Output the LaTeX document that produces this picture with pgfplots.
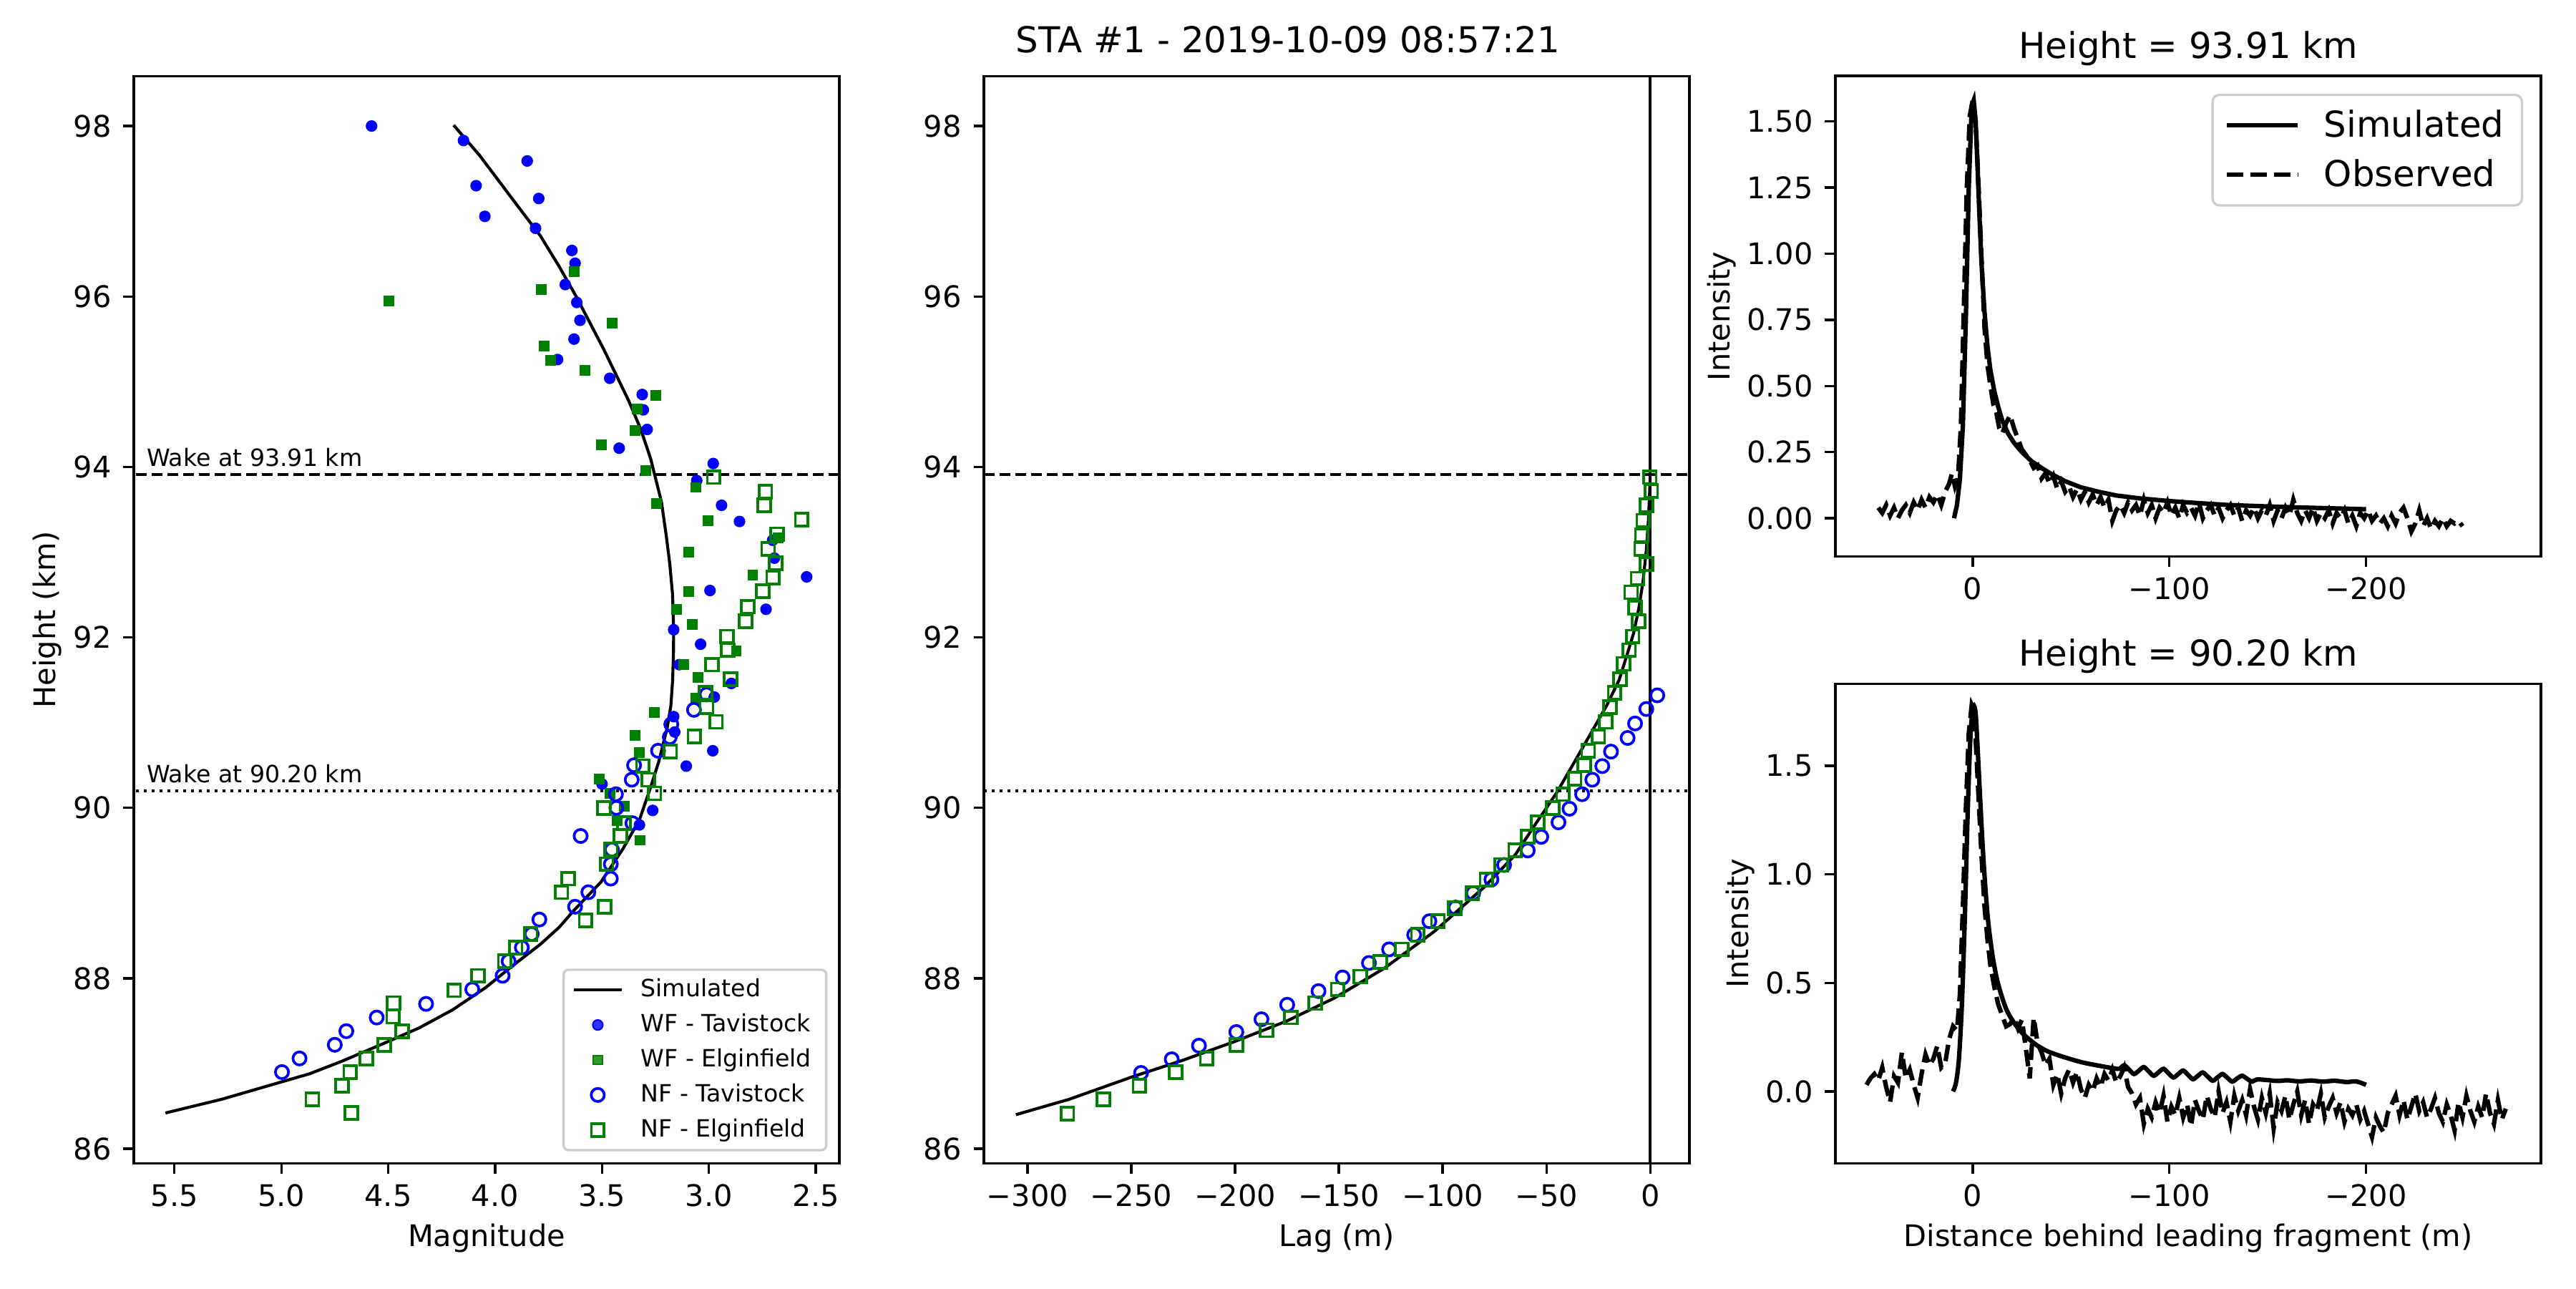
\documentclass[border=0pt]{standalone}
\usepackage{fontspec}
\setmainfont{DejaVu Sans}
\usepackage{pgfplots}
\pgfplotsset{compat=1.18}
\definecolor{mblue}{RGB}{0,0,255}
\definecolor{mgreen}{RGB}{0,128,0}
\definecolor{legedge}{RGB}{204,204,204}
\newcommand{\tenpt}{\fontsize{10}{12}\selectfont}
\newcommand{\eightpt}{\fontsize{8}{9.6}\selectfont}
\newcommand{\twelvept}{\fontsize{12}{14.4}\selectfont}
\pgfplotsset{
  mpl/.style={
    scale only axis,
    anchor=south west,
    width=237.53pt,
    axis line style={line width=0.8pt},
    tick align=outside,
    tick pos=left,
    major tick length=3.5pt,
    every tick/.style={black, line width=0.8pt},
    /pgf/number format/assume math mode=true,
    ticklabel style={font=\tenpt, inner sep=0pt},
    xticklabel style={anchor=base, yshift=-11pt},
    yticklabel style={anchor=east, xshift=-3.9pt},
    label style={font=\tenpt, inner sep=0pt},
    xlabel style={at={(axis description cs:0.5,0)}, anchor=base, yshift=-28.1pt},
    title style={font=\twelvept, inner sep=0pt, at={(axis description cs:0.5,1)}, anchor=base},
    legend cell align=left,
    legend image code/.code={\draw[mark repeat=2,mark phase=2,##1] plot coordinates {(0pt,0pt) (8pt,0pt) (16pt,0pt)};},
  },
  wftav/.style={only marks, mark=*, mark size=1.7pt, mark options={draw=mblue, fill=mblue, line width=0.5pt}},
  wfelg/.style={only marks, mark=square*, mark size=1.55pt, mark options={draw=mgreen, fill=mgreen, line width=0.5pt}},
  nftav/.style={only marks, mark=o, mark size=2.2pt, mark options={draw=mblue, line width=0.9pt}},
  nfelg/.style={only marks, mark=square, mark size=2.15pt, mark options={draw=mgreen, line width=0.9pt}},
}
\begin{document}
\begin{tikzpicture}
\path[use as bounding box] (0,0) rectangle (867.24pt,433.62pt);

% ---------------- Left panel ----------------
\begin{axis}[mpl, at={(45.05pt,42.08pt)}, height=365.9pt,
  x dir=reverse, xmin=2.39, xmax=5.69, ymin=85.83, ymax=98.585,
  xtick={5.5,5.0,4.5,4.0,3.5,3.0,2.5}, xticklabels={5.5,5.0,4.5,4.0,3.5,3.0,2.5},
  ytick={86,88,90,92,94,96,98},
  xlabel={Magnitude}, ylabel={Height (km)},
  ylabel style={at={(axis description cs:-0.1106,0.5)}, anchor=base},
  legend style={font=\eightpt, draw=legedge, line width=0.8pt, rounded corners=1.6pt,
    fill=white, fill opacity=0.8, draw opacity=1, text opacity=1,
    at={(0.983,0.011)}, anchor=south east, inner xsep=3pt, inner ysep=1pt,
    row sep=0.2pt, column sep=4pt},
]
\addplot[black, line width=1pt] coordinates {
(5.542,86.42) (5.280,86.58) (5.074,86.73) (4.868,86.88) (4.714,87.03) (4.508,87.25) (4.354,87.42) (4.199,87.63) (4.045,87.89) (3.917,88.15) (3.788,88.40) (3.700,88.60) (3.634,88.79) (3.505,89.13) (3.402,89.52) (3.325,89.86) (3.273,90.24) (3.235,90.54) (3.196,90.93) (3.178,91.20) (3.170,91.49) (3.166,91.80) (3.165,92.08) (3.170,92.50) (3.183,92.86) (3.200,93.20) (3.222,93.59) (3.273,94.10) (3.320,94.45) (3.376,94.78) (3.492,95.38) (3.621,96.00) (3.700,96.35) (3.788,96.71) (3.891,97.05) (4.071,97.65) (4.194,98.01)
};
\addlegendentry{Simulated}
\addplot[wftav] coordinates {
(4.578,98.00) (4.148,97.83) (3.850,97.59) (4.089,97.30) (3.796,97.15) (4.048,96.94) (3.811,96.80) (3.641,96.54) (3.626,96.39) (3.672,96.14) (3.618,95.93) (3.603,95.72) (3.631,95.50) (3.708,95.26) (3.464,95.04) (3.312,94.85) (3.307,94.67) (3.289,94.44) (3.420,94.22) (2.980,94.04) (3.057,93.84) (2.941,93.55) (2.857,93.36) (2.702,93.14) (2.694,92.93) (2.543,92.71) (2.995,92.55) (2.733,92.33) (3.165,92.09) (3.039,91.92) (3.139,91.68) (2.895,91.46) (2.975,91.30) (3.165,91.07) (3.160,90.89) (2.982,90.67) (3.106,90.49) (3.500,90.28) (3.263,89.97) (3.325,89.80)
};
\addlegendentry{WF - Tavistock}
\addplot[wfelg] coordinates {
(4.498,95.95) (3.785,96.08) (3.631,96.29) (3.454,95.69) (3.770,95.42) (3.739,95.25) (3.580,95.13) (3.250,94.84) (3.335,94.68) (3.345,94.43) (3.502,94.26) (3.294,93.96) (3.062,93.76) (3.245,93.57) (3.003,93.37) (3.093,93.00) (2.795,92.73) (2.676,93.17) (3.093,92.54) (3.150,92.33) (3.078,92.15) (2.872,91.84) (3.119,91.68) (3.050,91.53) (3.060,91.29) (3.255,91.12) (3.345,90.85) (3.325,90.65) (3.513,90.34) (3.464,90.17) (3.397,90.02) (3.430,89.85) (3.322,89.62)
};
\addlegendentry{WF - Elginfield}
\addplot[nftav] coordinates {
(3.011,91.33) (3.070,91.15) (3.176,90.98) (3.183,90.83) (3.238,90.67) (3.350,90.50) (3.361,90.33) (3.435,90.16) (3.433,90.00) (3.358,89.82) (3.600,89.67) (3.454,89.51) (3.459,89.34) (3.459,89.17) (3.564,89.01) (3.626,88.84) (3.793,88.69) (3.829,88.52) (3.875,88.36) (3.937,88.20) (3.965,88.03) (4.107,87.87) (4.323,87.70) (4.554,87.54) (4.696,87.38) (4.750,87.22) (4.915,87.06) (4.997,86.90)
};
\addlegendentry{NF - Tavistock}
\addplot[nfelg] coordinates {
(2.978,93.88) (2.736,93.71) (2.741,93.55) (2.566,93.38) (2.682,93.21) (2.723,93.04) (2.687,92.87) (2.700,92.70) (2.749,92.54) (2.818,92.36) (2.828,92.19) (2.916,92.01) (2.913,91.85) (2.985,91.68) (2.898,91.51) (3.016,91.35) (3.011,91.18) (2.967,91.01) (3.068,90.84) (3.181,90.66) (3.309,90.49) (3.284,90.33) (3.255,90.17) (3.492,90.00) (3.397,89.82) (3.415,89.67) (3.459,89.51) (3.479,89.34) (3.659,89.17) (3.690,89.01) (3.487,88.84) (3.577,88.68) (3.834,88.52) (3.904,88.36) (3.955,88.20) (4.081,88.03) (4.192,87.86) (4.475,87.71) (4.477,87.55) (4.434,87.38) (4.518,87.22) (4.603,87.06) (4.678,86.90) (4.717,86.74) (4.855,86.58) (4.673,86.42)
};
\addlegendentry{NF - Elginfield}
\addplot[forget plot, black, line width=1pt, dash pattern=on 3.7pt off 1.6pt] coordinates {(2.39,93.91) (5.69,93.91)};
\addplot[forget plot, black, line width=1pt, dash pattern=on 1pt off 1.65pt] coordinates {(2.39,90.20) (5.69,90.20)};
\node[anchor=base west, inner sep=0pt, font=\eightpt] at (axis cs:5.632,94.01) {Wake at 93.91 km};
\node[anchor=base west, inner sep=0pt, font=\eightpt] at (axis cs:5.632,90.30) {Wake at 90.20 km};
\end{axis}

% ---------------- Middle panel ----------------
\begin{axis}[mpl, at={(331.24pt,42.08pt)}, height=365.9pt,
  xmin=-321, xmax=18.9, ymin=85.83, ymax=98.585,
  xtick={-300,-250,-200,-150,-100,-50,0},
  xticklabels={−300,−250,−200,−150,−100,−50,0},
  ytick={86,88,90,92,94,96,98},
  xlabel={Lag (m)},
]
\addplot[black, line width=1pt] coordinates {
(-305.6,86.40) (-280,86.58) (-250,86.84) (-225,87.04) (-200,87.26) (-175,87.50) (-152,87.77) (-128,88.12) (-104,88.55) (-80,89.07) (-65,89.45) (-55,89.82) (-45,90.18) (-36,90.56) (-28,90.90) (-21,91.20) (-15,91.50) (-11.5,91.77) (-8,92.05) (-5.5,92.34) (-3.5,92.65) (-1.9,93.02) (-0.8,93.40) (-0.3,93.70) (0,93.91)
};
\addplot[nftav] coordinates {
(3.4,91.32) (-1.9,91.16) (-7.3,90.99) (-10.9,90.82) (-18.9,90.66) (-23.1,90.49) (-27.9,90.33) (-32.8,90.16) (-38.9,89.99) (-44.2,89.83) (-52.5,89.66) (-59.0,89.50) (-70.4,89.33) (-76.5,89.16) (-85.3,89.00) (-93.8,88.83) (-106.4,88.67) (-113.7,88.51) (-125.8,88.34) (-135.5,88.18) (-148.2,88.01) (-159.8,87.85) (-174.9,87.69) (-187.3,87.52) (-199.4,87.37) (-217.4,87.21) (-230.5,87.05) (-245.3,86.89)
};
\addplot[nfelg] coordinates {
(-0.2,93.88) (0.5,93.72) (-1.9,93.55) (-3.4,93.37) (-4.1,93.20) (-4.4,93.04) (-1.9,92.86) (-6.1,92.69) (-9.2,92.53) (-7.3,92.35) (-5.6,92.19) (-8.5,92.01) (-10.2,91.85) (-12.9,91.69) (-14.6,91.51) (-17.2,91.35) (-19.4,91.18) (-21.4,91.01) (-25.0,90.84) (-29.9,90.67) (-31.8,90.50) (-36.4,90.34) (-42.0,90.16) (-46.9,90.00) (-54.2,89.83) (-59.0,89.66) (-65.1,89.50) (-71.7,89.33) (-78.9,89.16) (-85.7,89.00) (-94.2,88.82) (-102.3,88.67) (-112.0,88.51) (-119.7,88.34) (-130.0,88.19) (-139.7,88.02) (-150.6,87.87) (-161.5,87.71) (-173.2,87.54) (-184.8,87.39) (-199.4,87.22) (-213.7,87.06) (-228.6,86.90) (-246.1,86.74) (-263.5,86.58) (-280.8,86.41)
};
\addplot[black, line width=1pt] coordinates {(0,85.83) (0,98.585)};
\addplot[black, line width=1pt, dash pattern=on 3.7pt off 1.6pt] coordinates {(-321,93.91) (18.9,93.91)};
\addplot[black, line width=1pt, dash pattern=on 1pt off 1.65pt] coordinates {(-321,90.20) (18.9,90.20)};
\end{axis}

% ---------------- Right top ----------------
\begin{axis}[mpl, at={(617.91pt,246.27pt)}, height=161.8pt,
  x dir=reverse, xmin=-288.9, xmax=69.8, ymin=-0.145, ymax=1.672,
  xtick={0,-100,-200}, xticklabels={0,−100,−200},
  ytick={0,0.25,0.5,0.75,1,1.25,1.5}, yticklabels={0.00,0.25,0.50,0.75,1.00,1.25,1.50},
  ylabel={Intensity},
  ylabel style={at={(axis description cs:-0.1501,0.5)}, anchor=base},
  title={Height = 93.91 km},
  legend style={font=\twelvept, draw=legedge, line width=0.8pt, rounded corners=2.4pt,
    fill=white, fill opacity=0.8, draw opacity=1, text opacity=1,
    at={(0.9747,0.9631)}, anchor=north east, inner xsep=4pt, inner ysep=3pt,
    row sep=2pt, column sep=6pt},
  legend image code/.code={\draw[#1] (0pt,0pt) -- (24pt,0pt);},
]
\addplot[black, line width=1.5pt] coordinates {
(9.5,0.00) (8,0.05) (6.5,0.15) (5,0.35) (3.5,0.75) (2,1.25) (0.5,1.56) (-0.5,1.58) (-1.5,1.50) (-2.5,1.32) (-3.5,1.13) (-4.5,0.96) (-6,0.78) (-7.5,0.65) (-9,0.56) (-11,0.48) (-13,0.42) (-15,0.37) (-18,0.32) (-21,0.285) (-25,0.25) (-30,0.215) (-35,0.19) (-40,0.167) (-47,0.14) (-55,0.117) (-64,0.10) (-73,0.086) (-85,0.075) (-100,0.065) (-115,0.057) (-130,0.05) (-145,0.046) (-160,0.042) (-180,0.038) (-200,0.034)
};
\addlegendentry{Simulated}
\addplot[black, line width=1.5pt, dash pattern=on 5.55pt off 2.4pt] coordinates {
(48,0.04) (46,0.02) (44,0.05) (42,0.01) (40,0.04) (38,0.00) (36,0.03) (34,0.05) (32,0.02) (30,0.06) (28,0.03) (26,0.07) (24,0.04) (22,0.08) (20,0.06) (18,0.09) (16,0.05) (14,0.10) (12,0.13) (10.5,0.17) (9,0.12) (7.5,0.15) (6,0.35) (4.5,0.80) (3,1.25) (1.5,1.52) (0,1.58) (-1.5,1.50) (-3,1.25) (-4.5,0.98) (-6,0.72) (-7.5,0.58) (-9,0.50) (-10.5,0.43) (-12,0.40) (-13.5,0.34) (-15,0.32) (-17,0.36) (-19,0.39) (-21,0.34) (-23,0.30) (-25,0.26) (-27,0.24) (-29,0.22) (-31,0.19) (-33,0.20) (-35,0.15) (-37,0.17) (-39,0.13) (-41,0.16) (-43,0.11) (-45,0.14) (-47,0.10) (-49,0.12) (-51,0.08) (-53,0.11) (-55,0.07) (-57,0.10) (-59,0.06) (-61,0.09) (-63,0.05) (-65,0.08) (-67,0.04) (-69,0.07) (-71,-0.01) (-73,0.03) (-75,0.05) (-77,0.02) (-79,0.06) (-81,0.03) (-83,0.05) (-85,0.01) (-87,0.07) (-89,0.02) (-91,0.05) (-93,0.00) (-95,0.04) (-97,0.02) (-99,0.06) (-101,0.01) (-103,0.04) (-105,0.00) (-107,0.05) (-109,0.02) (-111,0.04) (-113,0.01) (-115,0.06) (-117,0.00) (-119,0.03) (-121,0.05) (-123,0.01) (-125,0.04) (-127,0.00) (-129,0.03) (-131,0.05) (-133,0.01) (-135,0.04) (-137,-0.01) (-139,0.03) (-141,0.01) (-143,0.04) (-145,0.00) (-147,0.03) (-149,0.01) (-151,0.05) (-153,-0.01) (-155,0.03) (-157,0.00) (-159,0.04) (-161,0.01) (-163,0.07) (-165,0.02) (-167,-0.01) (-169,0.03) (-171,0.00) (-173,0.04) (-175,-0.01) (-177,0.02) (-179,0.00) (-181,0.03) (-183,-0.02) (-185,0.02) (-187,0.00) (-189,0.03) (-191,-0.02) (-193,0.01) (-195,-0.03) (-197,0.02) (-199,0.00) (-201,0.03) (-203,-0.01) (-205,0.01) (-207,-0.02) (-209,0.00) (-211,-0.03) (-213,0.01) (-215,-0.02) (-217,0.02) (-219,0.04) (-221,0.00) (-223,-0.05) (-225,-0.02) (-227,0.03) (-229,-0.03) (-231,0.00) (-233,-0.04) (-235,-0.01) (-237,-0.03) (-239,0.00) (-241,-0.03) (-243,-0.01) (-245,-0.02) (-247,-0.01) (-249,-0.03)
};
\addlegendentry{Observed}
\end{axis}

% ---------------- Right bottom ----------------
\begin{axis}[mpl, at={(617.91pt,42.08pt)}, height=161.4pt,
  x dir=reverse, xmin=-288.9, xmax=69.8, ymin=-0.331, ymax=1.8775,
  xtick={0,-100,-200}, xticklabels={0,−100,−200},
  ytick={0,0.5,1,1.5}, yticklabels={0.0,0.5,1.0,1.5},
  ylabel={Intensity},
  ylabel style={at={(axis description cs:-0.1232,0.5)}, anchor=base},
  xlabel={Distance behind leading fragment (m)},
  title={Height = 90.20 km},
]
\addplot[black, line width=1.5pt, smooth, tension=0.5] coordinates {
(10,0.00) (8.5,0.04) (7,0.15) (5.5,0.40) (4,0.80) (2.5,1.30) (1,1.66) (-0.5,1.77) (-1.5,1.74) (-2.5,1.58) (-3.5,1.40) (-5,1.14) (-6.5,0.93) (-8,0.77) (-10,0.63) (-12,0.53) (-14,0.46) (-17,0.38) (-20,0.33) (-24,0.28) (-28,0.245) (-33,0.21) (-38,0.185) (-44,0.165) (-50,0.148) (-56,0.133) (-62,0.122) (-68,0.112) (-72,0.106) (-74.5,0.104) (-77,0.120) (-79.5,0.100) (-82,0.080) (-84.5,0.096) (-87,0.112) (-89.5,0.092) (-92,0.072) (-94.5,0.088) (-97,0.104) (-99.5,0.084) (-102,0.064) (-104.5,0.080) (-107,0.096) (-109.5,0.076) (-112,0.056) (-114.5,0.072) (-117,0.087) (-119.5,0.068) (-122,0.049) (-124.5,0.065) (-127,0.080) (-129.5,0.062) (-132,0.045) (-134.5,0.060) (-137,0.072) (-139.5,0.058) (-142,0.045) (-144.5,0.055) (-150,0.052) (-155,0.048) (-160,0.051) (-166,0.046) (-172,0.050) (-178,0.045) (-184,0.049) (-190,0.043) (-195,0.046) (-200,0.030)
};
\addplot[black, line width=1.5pt, dash pattern=on 5.55pt off 2.4pt] coordinates {
(54,0.03) (52,0.06) (50,0.08) (48,0.05) (46,0.11) (44,0.02) (42,-0.05) (40,0.07) (38,0.04) (36,0.18) (34,0.06) (32,0.10) (30,0.03) (28,-0.03) (26,0.08) (24,0.17) (22,0.12) (20,0.15) (18,0.21) (16,0.11) (14,0.13) (12,0.24) (10,0.30) (8,0.28) (6.5,0.45) (5,0.85) (3.5,1.30) (2,1.65) (0.5,1.78) (-0.5,1.76) (-1.5,1.62) (-3,1.35) (-4.5,1.08) (-6,0.85) (-7.5,0.70) (-9,0.58) (-11,0.48) (-13,0.40) (-15,0.35) (-17,0.30) (-19,0.31) (-21,0.34) (-23,0.29) (-25,0.33) (-27,0.20) (-29,0.06) (-31,0.34) (-33,0.22) (-35,0.18) (-37,0.12) (-39,0.15) (-41,0.03) (-43,0.08) (-45,-0.01) (-47,0.06) (-49,0.10) (-51,0.04) (-53,0.09) (-55,0.01) (-57,-0.03) (-59,0.03) (-61,0.00) (-63,0.06) (-65,0.02) (-67,0.08) (-69,0.05) (-71,0.10) (-73,0.04) (-75,0.07) (-77,0.11) (-79,0.02) (-81,-0.01) (-83,-0.06) (-85,-0.03) (-87,-0.15) (-89,-0.08) (-91,-0.12) (-93,-0.05) (-95,-0.10) (-97,-0.02) (-99,-0.14) (-101,-0.07) (-103,-0.11) (-105,-0.03) (-107,-0.12) (-109,-0.06) (-111,-0.16) (-113,-0.04) (-115,-0.09) (-117,-0.13) (-119,-0.02) (-121,-0.08) (-123,-0.12) (-125,0.00) (-127,-0.10) (-129,-0.05) (-131,-0.14) (-133,-0.02) (-135,-0.09) (-137,-0.04) (-139,-0.11) (-141,0.01) (-143,-0.07) (-145,-0.13) (-147,-0.03) (-149,-0.10) (-151,-0.01) (-153,-0.17) (-155,-0.05) (-157,-0.09) (-159,-0.02) (-161,-0.13) (-163,-0.06) (-165,0.00) (-167,-0.11) (-169,-0.04) (-171,-0.15) (-173,-0.06) (-175,-0.09) (-177,-0.01) (-179,-0.12) (-181,-0.07) (-183,-0.03) (-185,-0.10) (-187,-0.05) (-189,-0.14) (-191,-0.08) (-193,-0.11) (-195,-0.06) (-197,-0.13) (-199,-0.09) (-201,-0.15) (-203,-0.21) (-205,-0.12) (-207,-0.16) (-209,-0.19) (-211,-0.10) (-213,-0.06) (-215,-0.02) (-217,-0.11) (-219,-0.04) (-221,-0.13) (-223,-0.07) (-225,-0.01) (-227,-0.09) (-229,-0.05) (-231,-0.12) (-233,-0.08) (-235,-0.03) (-237,-0.10) (-239,-0.14) (-241,-0.06) (-243,-0.11) (-245,-0.18) (-247,-0.05) (-249,-0.12) (-251,-0.02) (-253,-0.09) (-255,-0.14) (-257,-0.07) (-259,-0.12) (-261,-0.01) (-263,-0.10) (-265,-0.15) (-267,-0.04) (-269,-0.13) (-271,-0.08)
};
\end{axis}

\node[font=\twelvept, anchor=base, inner sep=0pt] at (433.62pt,416.0pt) {STA \#1 - 2019-10-09 08:57:21};
\end{tikzpicture}
\end{document}
